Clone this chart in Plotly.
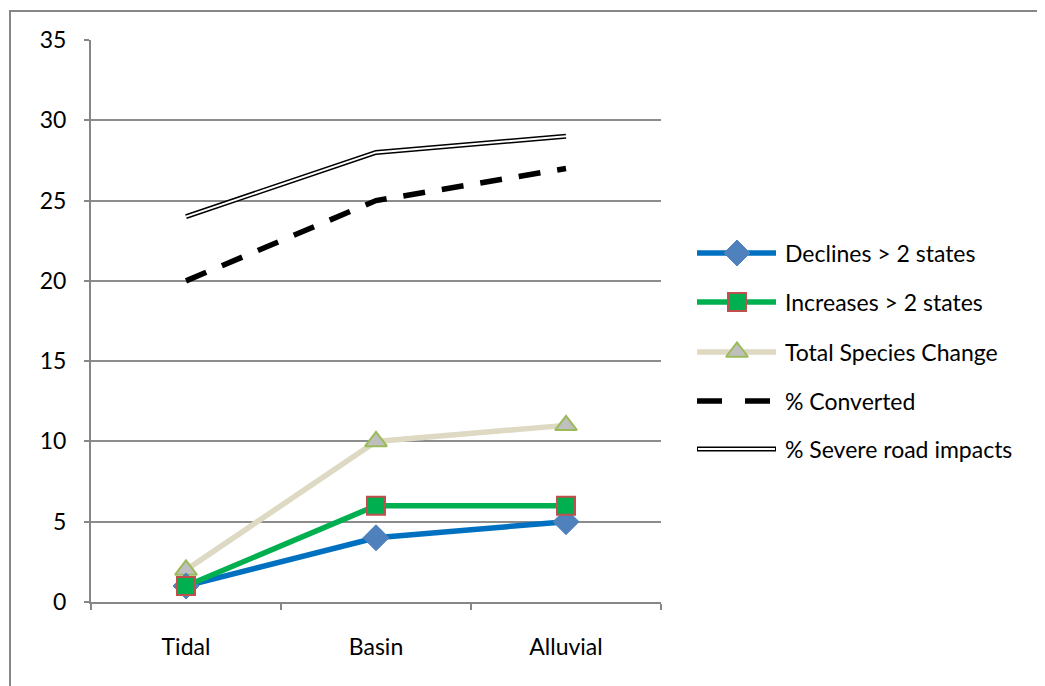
import plotly.graph_objects as go

categories = ["Tidal", "Basin", "Alluvial"]
declines = [1, 4, 5]
increases = [1, 6, 6]
total_change = [2, 10, 11]
converted = [20, 25, 27]
severe_road = [24, 28, 29]

series_names = ["Declines > 2 states", "Increases > 2 states", "Total Species Change",
                "% Converted", "% Severe road impacts"]

FONT = "Lato"
FS = 23
OFF = 8  # page offset of the plot div
W, H = 1045 - OFF, 686 - OFF
ML, MT = 91 - OFF, 40 - OFF
PLOT_BOTTOM = 602 - OFF
MB = H - PLOT_BOTTOM
PLOT_RIGHT = 661 - OFF

diamond = dict(symbol="diamond", size=20, color="#4F81BD", line=dict(color="#4F81BD", width=1))
square = dict(symbol="square", size=18, color="#00B050", line=dict(color="#C0504D", width=2))
triangle = dict(symbol="triangle-up", size=19, color="#BFBFBF", line=dict(color="#9BBB59", width=2))

fig = go.Figure()

# data traces
fig.add_trace(go.Scatter(x=categories, y=total_change, mode="lines+markers",
                         line=dict(color="#DDD9C3", width=5.5), marker=triangle,
                         showlegend=False))
fig.add_trace(go.Scatter(x=categories, y=declines, mode="lines+markers",
                         line=dict(color="#0070C0", width=5.5), marker=diamond,
                         showlegend=False))
fig.add_trace(go.Scatter(x=categories, y=increases, mode="lines+markers",
                         line=dict(color="#00B050", width=5.5), marker=square,
                         showlegend=False))
fig.add_trace(go.Scatter(x=categories, y=converted, mode="lines",
                         line=dict(color="black", width=5.5, dash="22px,17px"),
                         showlegend=False))
fig.add_trace(go.Scatter(x=categories, y=severe_road, mode="lines",
                         line=dict(color="black", width=5),
                         showlegend=False))
fig.add_trace(go.Scatter(x=categories, y=severe_road, mode="lines",
                         line=dict(color="white", width=2),
                         showlegend=False))

# manual legend on a pixel-mapped helper axis (placed right of the plot area)
leg_y = [253 - OFF, 302 - OFF, 352 - OFF, 401 - OFF, 449 - OFF]
lx0, lx1, lxm, ltx = 697 - OFF, 776 - OFF, 737 - OFF, 783 - OFF
styles = [
    dict(line=dict(color="#0070C0", width=5.5), marker=diamond),
    dict(line=dict(color="#00B050", width=5.5), marker=square),
    dict(line=dict(color="#DDD9C3", width=5.5), marker=triangle),
    dict(line=dict(color="black", width=5.5, dash="25px,23px")),
    dict(line=dict(color="black", width=5)),
]
for i, (yy, st) in enumerate(zip(leg_y, styles)):
    xe = lx1 - 6 if i == 3 else lx1
    fig.add_trace(go.Scatter(x=[lx0, xe], y=[yy, yy], mode="lines", line=st["line"],
                             xaxis="x2", yaxis="y2", showlegend=False, hoverinfo="skip"))
    if "marker" in st:
        fig.add_trace(go.Scatter(x=[lxm], y=[yy], mode="markers", marker=st["marker"],
                                 xaxis="x2", yaxis="y2", showlegend=False, hoverinfo="skip"))
    fig.add_annotation(x=ltx, y=yy, xref="x2", yref="y2", text=series_names[i],
                       showarrow=False, xanchor="left", yanchor="middle",
                       font=dict(family=FONT, size=FS, color="black"))
fig.add_trace(go.Scatter(x=[lx0 + 1, lx1 - 1], y=[leg_y[4], leg_y[4]], mode="lines",
                         line=dict(color="white", width=2),
                         xaxis="x2", yaxis="y2", showlegend=False, hoverinfo="skip"))

pw = W - ML
dom_end = (PLOT_RIGHT - ML) / pw
ph = H - MT - MB
leg_start = (680 - OFF - ML) / pw

fig.update_layout(
    width=W, height=H,
    margin=dict(l=ML, r=0, t=MT, b=MB, pad=0),
    paper_bgcolor="white", plot_bgcolor="rgba(0,0,0,0)",
    font=dict(family=FONT, size=FS, color="black"),
    showlegend=False,
    xaxis=dict(domain=[0, dom_end], type="category", range=[-0.5, 2.5],
               showline=True, linecolor="#868686", linewidth=2,
               ticks="outside", tickson="boundaries", ticklen=6, tickcolor="#868686", tickwidth=2,
               showgrid=False, zeroline=False, ticklabelstandoff=23,
               tickfont=dict(family=FONT, size=FS, color="black")),
    yaxis=dict(range=[0, 35], dtick=5, showline=True, linecolor="#868686", linewidth=2,
               ticks="outside", ticklen=5, tickcolor="#868686", tickwidth=2,
               showgrid=True, gridcolor="#8C8C8C", gridwidth=1.5, zeroline=False,
               ticklabelstandoff=13,
               tickfont=dict(family=FONT, size=FS, color="black")),
    xaxis2=dict(domain=[leg_start, 1], range=[680 - OFF, W], visible=False,
                fixedrange=True, anchor="y2"),
    yaxis2=dict(domain=[0, 1], range=[H - MB, MT], visible=False, fixedrange=True, anchor="x2"),
)

# outer chart border
fig.add_shape(type="rect", xref="paper", yref="paper",
              x0=(10 - OFF - ML) / pw, x1=(W + 5 - ML) / pw,
              y0=-(H + 5 - PLOT_BOTTOM) / ph, y1=(PLOT_BOTTOM - (11 - OFF)) / ph,
              line=dict(color="#868686", width=2), fillcolor="rgba(0,0,0,0)", layer="below")

fig.write_html("out.html")
